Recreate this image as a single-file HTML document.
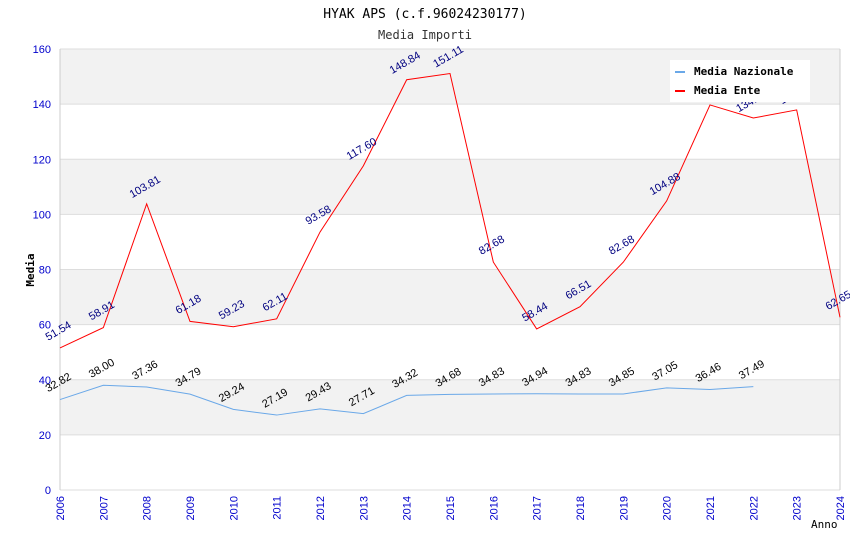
<!DOCTYPE html>
<html><head><meta charset="utf-8"><style>
body{margin:0;background:#fff;}
svg{font-family:"Liberation Sans","DejaVu Sans",sans-serif;}
</style></head><body>
<svg id="c" width="850" height="550">
<text x="425" y="18" text-anchor="middle" font-family="DejaVu Sans Mono,Liberation Mono,monospace" font-size="13" fill="#000">HYAK APS (c.f.96024230177)</text>
<text x="425" y="39" text-anchor="middle" font-family="DejaVu Sans Mono,Liberation Mono,monospace" font-size="12" fill="#333">Media Importi</text>
<g id="bands"></g><g id="grid"></g><g id="axes"></g><g id="series"></g><g id="labels"></g>
<text transform="translate(34,270) rotate(-90)" text-anchor="middle" font-family="DejaVu Sans Mono,Liberation Mono,monospace" font-size="11" font-weight="bold">Media</text>
<text x="811" y="528" font-family="DejaVu Sans Mono,Liberation Mono,monospace" font-size="11">Anno</text>
<g>
<rect x="670" y="60" width="140" height="42" fill="#fff"/>
<rect x="675" y="71" width="10" height="2" fill="#6aa8e8"/>
<text x="694" y="75" font-family="DejaVu Sans Mono,Liberation Mono,monospace" font-size="11" font-weight="bold">Media Nazionale</text>
<rect x="675" y="90" width="10" height="2" fill="#f00"/>
<text x="694" y="94" font-family="DejaVu Sans Mono,Liberation Mono,monospace" font-size="11" font-weight="bold">Media Ente</text>
</g>
</svg>
<script>
const years=[2006,2007,2008,2009,2010,2011,2012,2013,2014,2015,2016,2017,2018,2019,2020,2021,2022,2023,2024];
const ente=[51.54,58.91,103.81,61.18,59.23,62.11,93.58,117.60,148.84,151.11,82.68,58.44,66.51,82.68,104.88,139.7,134.96,137.9,62.65];
const naz=[32.82,38.00,37.36,34.79,29.24,27.19,29.43,27.71,34.32,34.68,34.83,34.94,34.83,34.85,37.05,36.46,37.49];
const yTicks=[0,20,40,60,80,100,120,140,160];
const NS="http://www.w3.org/2000/svg";
const X0=60,X1=840,Y0=490,Y1=49;
const xs=i=>X0+(X1-X0)*i/(years.length-1);
const ys=v=>Y0-(Y0-Y1)*v/160;
function mk(t,a,p){const e=document.createElementNS(NS,t);for(const k in a)e.setAttribute(k,a[k]);document.getElementById(p).appendChild(e);return e;}
for(let i=0;i<yTicks.length-1;i++){
 if(i%2===1){const r=mk('rect',{x:X0,y:ys(yTicks[i+1]),width:X1-X0,height:ys(yTicks[i])-ys(yTicks[i+1]),fill:'#f2f2f2'},'bands');
 
 }
}
yTicks.forEach(v=>{
 const l=mk('line',{x1:X0,x2:X1,y1:ys(v),y2:ys(v),stroke:'#ddd'},'grid');
 
 
 const t=mk('text',{x:X0-9,y:ys(v)+4,'text-anchor':'end','font-size':11,fill:'#00c'},'axes');
 t.textContent=v;
 
 
});
mk('line',{x1:X0,x2:X0,y1:Y1,y2:Y0,stroke:'#ccc'},'axes');
mk('line',{x1:X1,x2:X1,y1:Y1,y2:Y0,stroke:'#ccc'},'axes');
years.forEach((y,i)=>{
 const t=mk('text',{transform:`translate(${xs(i)+4},${Y0+6}) rotate(-90)`,'text-anchor':'end','font-size':11,fill:'#00c'},'axes');
 t.textContent=y;
 
 
});
function line(d,col,name){
 const p=mk('polyline',{points:d.map((v,i)=>xs(i)+','+ys(v)).join(' '),fill:'none',stroke:col,'stroke-width':1},'series');
 
 
}
line(naz,'#6aa8e8','line-media-nazionale');
line(ente,'#f00','line-media-ente');
function labs(d,col){
 d.forEach((v,i)=>{
  const t=mk('text',{transform:`translate(${xs(i)},${ys(v)-14}) rotate(-30)`,'text-anchor':'middle','font-size':11,fill:col},'labels');
  t.textContent=v.toFixed(2);
  
  
 });
}
labs(naz,'#000');
labs(ente,'#000080');
</script>
</body></html>
